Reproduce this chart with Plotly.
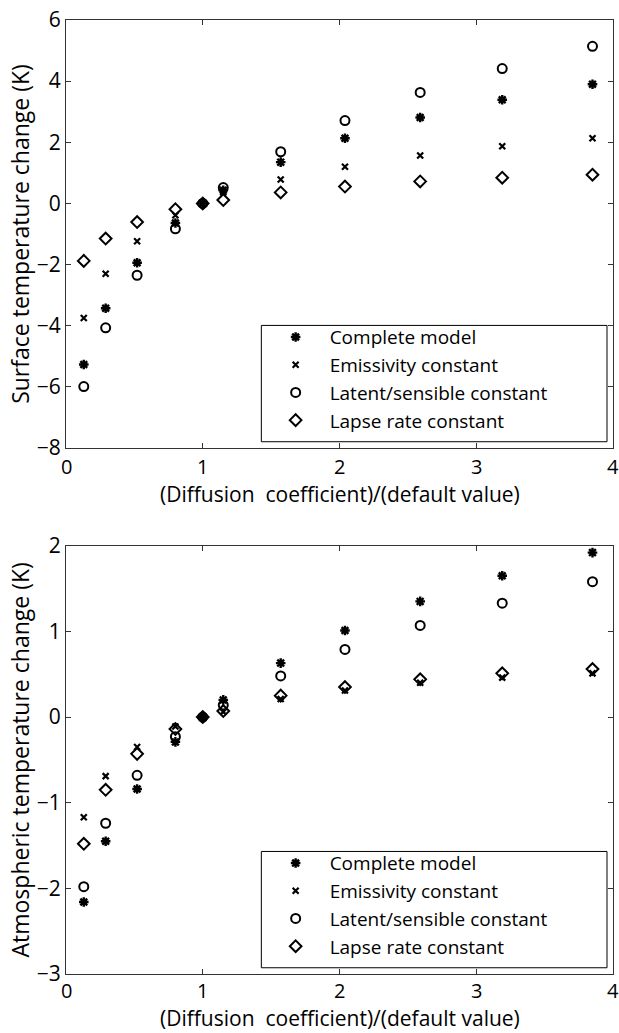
import plotly.graph_objects as go

# Diffusion coefficient relative to its default value
ratio = [0.13, 0.29, 0.52, 0.80, 1.00, 1.15, 1.57, 2.04, 2.59, 3.19, 3.85]

# Surface temperature change (K)
surf_complete = [-5.27, -3.43, -1.94, -0.64, 0.0, 0.43, 1.35, 2.13, 2.81, 3.39, 3.90]
surf_emiss    = [-3.75, -2.30, -1.24, -0.39, 0.0, 0.36, 0.78, 1.20, 1.57, 1.87, 2.13]
surf_latent   = [-5.99, -4.07, -2.35, -0.83, 0.0, 0.52, 1.69, 2.71, 3.63, 4.41, 5.14]
surf_lapse    = [-1.88, -1.15, -0.61, -0.19, 0.0, 0.11, 0.36, 0.55, 0.72, 0.84, 0.94]

# Atmospheric temperature change (K)
atm_complete = [-2.16, -1.45, -0.84, -0.29, 0.0, 0.20, 0.63, 1.01, 1.35, 1.65, 1.92]
atm_emiss    = [-1.17, -0.69, -0.35, -0.11, 0.0, 0.06, 0.21, 0.31, 0.40, 0.46, 0.51]
atm_latent   = [-1.98, -1.24, -0.68, -0.23, 0.0, 0.14, 0.48, 0.79, 1.07, 1.33, 1.58]
atm_lapse    = [-1.48, -0.85, -0.43, -0.14, 0.0, 0.07, 0.25, 0.35, 0.44, 0.51, 0.56]

series_names = ["Complete model", "Emissivity constant",
                "Latent/sensible constant", "Lapse rate constant"]

x_title = "(Diffusion  coefficient)/(default value)"
x_ticks = [0, 1, 2, 3, 4]
surf_ticks = [6, 4, 2, 0, -2, -4, -6, -8]
atm_ticks = [2, 1, 0, -1, -2, -3]

W, H = 619, 1033
ML, MR, MT, MB = 66, 5, 11, 59
FONT = "Open Sans"
INK = "#000000"
AXIS = "#333333"

# marker styles for the four series
styles = [
    dict(symbol="asterisk-open", size=8, line=dict(width=2.4, color=INK)),
    dict(symbol="x-thin-open", size=6, line=dict(width=2.2, color=INK)),
    dict(symbol="circle-open", size=9, line=dict(width=2.0, color=INK)),
    dict(symbol="diamond-open", size=9, line=dict(width=2.0, color=INK)),
]

def py(px):
    """vertical pixel position -> paper fraction"""
    return (H - MB - px) / (H - MT - MB)

def pxx(px):
    """horizontal pixel position -> paper fraction"""
    return (px - ML) / (W - ML - MR)

fig = go.Figure()

panels = [
    ("x", "y", "legend", [surf_complete, surf_emiss, surf_latent, surf_lapse]),
    ("x2", "y2", "legend2", [atm_complete, atm_emiss, atm_latent, atm_lapse]),
]
for xref, yref, leg, data in panels:
    for name, vals, st in zip(series_names, data, styles):
        fig.add_trace(go.Scatter(
            x=ratio, y=vals, mode="markers", name=name,
            marker=dict(color=INK, **st),
            xaxis=xref, yaxis=yref, legend=leg, showlegend=True,
        ))

axis_common = dict(
    showgrid=False, zeroline=False, showline=True, linecolor=AXIS, linewidth=1,
    mirror="ticks", ticks="inside", ticklen=5, tickcolor=AXIS, tickwidth=1,
    tickfont=dict(family=FONT, size=21, color=INK),
    ticklabeloverflow="allow",
)
y_extra = dict(title_font=dict(family=FONT, size=23, color=INK))

top_dom = [py(443), 1.0]
bot_dom = [0.0, py(541.7)]

fig.update_layout(
    width=W, height=H,
    margin=dict(l=ML, r=MR, t=MT, b=MB),
    paper_bgcolor="white", plot_bgcolor="white",
    font=dict(family=FONT, color=INK),
    xaxis=dict(domain=[0, 1], anchor="y", range=[0, 4], tickvals=x_ticks,
               showticklabels=False, **axis_common),
    yaxis=dict(domain=top_dom, anchor="x", range=[-8, 6], tickvals=surf_ticks,
               title=dict(text="Surface temperature change (K)", standoff=0),
               **axis_common, **y_extra),
    xaxis2=dict(domain=[0, 1], anchor="y2", range=[0, 4], tickvals=x_ticks,
                showticklabels=False, **axis_common),
    yaxis2=dict(domain=bot_dom, anchor="x2", range=[-3, 2], tickvals=atm_ticks,
                title=dict(text="Atmospheric temperature change (K)", standoff=0),
                **axis_common, **y_extra),
)

# x tick labels and x-axis titles, set tight under each panel
for xref, tick_y, title_y in (("x", 462, 489), ("x2", 991, 1018)):
    for t in x_ticks:
        fig.add_annotation(text=str(t), xref=xref, yref="paper",
                           x=t, y=py(tick_y), xanchor="center", yanchor="middle",
                           showarrow=False, font=dict(family=FONT, size=20, color=INK))
    fig.add_annotation(text=x_title, xref="paper", yref="paper",
                       x=0.5, y=py(title_y), xanchor="center", yanchor="middle",
                       showarrow=False, font=dict(family=FONT, size=21, color=INK))

legend_common = dict(
    xanchor="left", yanchor="top", bgcolor="rgba(0,0,0,0)", borderwidth=0,
    font=dict(family=FONT, size=19, color=INK), itemwidth=58, tracegroupgap=0,
)
fig.update_layout(
    legend=dict(x=pxx(262), y=py(312), **legend_common),
    legend2=dict(x=pxx(262), y=py(843), **legend_common),
)

# legend frames
for top, bottom in [(319.3, 436.7), (850.3, 967.7)]:
    fig.add_shape(type="rect", xref="paper", yref="paper",
                  x0=pxx(261.7), x1=pxx(608), y0=py(bottom), y1=py(top),
                  line=dict(color=INK, width=1), fillcolor="rgba(0,0,0,0)")

fig.write_html("out.html")
